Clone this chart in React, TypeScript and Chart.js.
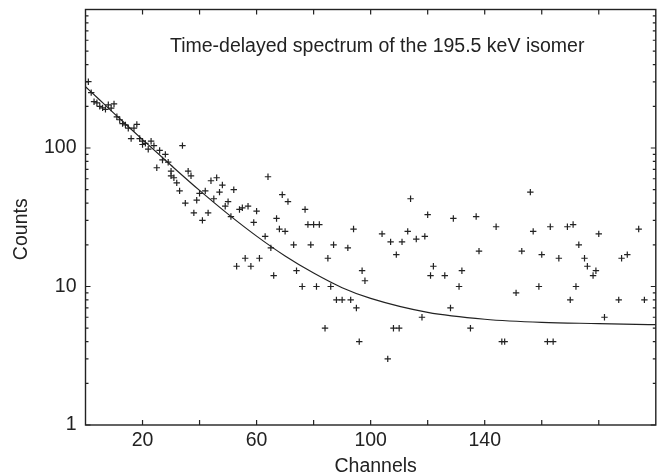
import React, { useEffect, useRef } from "react";
import { Chart, registerables } from "chart.js";

Chart.register(...registerables);

// Measured spectrum: channel number and counts per channel
const channels = [
  1, 2, 3, 4, 5, 6, 7, 8, 9, 10, 11, 12, 13, 14, 15, 16, 17, 18, 19, 20, 20, 21, 22, 23, 24,
  25, 26, 27, 28, 29, 30, 30, 31, 32, 33, 34, 35, 36, 37, 38, 39, 40, 41, 42, 43, 44, 45, 46,
  47, 48, 49, 50, 51, 52, 53, 54, 55, 56, 57, 58, 59, 60, 61, 63, 64, 65, 66, 67, 68, 69, 70,
  71, 73, 74, 76, 77, 78, 79, 80, 81, 82, 84, 85, 86, 87, 88, 90, 92, 93, 94, 95, 96, 97, 98,
  104, 106, 107, 108, 109, 110, 111, 113, 114, 116, 118, 119, 120, 121, 122, 126, 128, 129,
  131, 132, 135, 137, 138, 144, 146, 147, 151, 153, 156, 157, 159, 160, 162, 163, 164, 166,
  169, 170, 171, 172, 173, 175, 176, 178, 179, 180, 182, 187, 188, 190, 194, 196,
];
const counts = [
  301, 251, 216, 212, 200, 195, 190, 205, 194, 208, 168, 160, 150, 147, 139, 117, 139, 148,
  117, 106, 112, 108, 98, 112, 104, 72, 96, 82, 90, 79, 68, 63, 61, 56, 49, 104, 40, 68, 63,
  34, 42, 47, 30, 49, 34, 58, 43, 61, 48, 54, 38, 41, 32, 50, 14, 36, 37, 16, 38, 14, 29, 35,
  16, 23, 62, 19, 12, 31, 26, 46, 25, 41, 20, 13, 10, 36, 28, 20, 28, 10, 28, 5, 16, 10, 20,
  8, 8, 19, 8, 26, 7, 4, 13, 11, 24, 3, 21, 5, 17, 5, 21, 25, 43, 22, 6, 23, 33, 12, 14, 12,
  7, 31, 10, 13, 5, 32, 18, 27, 4, 4, 9, 18, 48, 25, 10, 17, 4, 27, 4, 16, 27, 8, 28, 10, 20,
  16, 14, 12, 13, 24, 6, 8, 16, 17, 26, 8,
];

// Fitted decay curve (exponential plus flat background)
const fitChannels = [0, 5, 10, 15, 20, 30, 40, 50, 60, 70, 80, 90, 100, 120, 140, 160, 180, 200];
const fitCounts = [277, 222, 178, 143, 115, 75, 49.4, 33.3, 23.1, 16.6, 12.5, 9.8, 8.2, 6.5, 5.8, 5.5, 5.4, 5.3];

// Axis ticks and labels
const xTickValues = [20, 40, 60, 80, 100, 120, 140, 160, 180];
const xLabelValues = [20, 60, 100, 140];
const yLabelValues = [1, 10, 100];
const yDecades = [1, 10, 100];

const plotTitle = "Time-delayed spectrum of the 195.5 keV isomer";
const xAxisTitle = "Channels";
const yAxisTitle = "Counts";

const FONT = '"Liberation Sans", Arial, Helvetica, sans-serif';
const FONT_SIZE = 19.5;
const INK = "#222";

// Draws the boxed frame with inward ticks on all four sides, plus the text
const frameAndText = {
  id: "frameAndText",
  afterDraw(chart: any) {
    const { ctx, chartArea: a, scales } = chart;
    const xs = scales.x;
    const ys = scales.y;
    ctx.save();
    ctx.strokeStyle = INK;
    ctx.lineWidth = 1.4;
    ctx.strokeRect(a.left, a.top, a.right - a.left, a.bottom - a.top);

    ctx.lineWidth = 1.2;
    ctx.beginPath();
    for (const v of xTickValues) {
      const px = xs.getPixelForValue(v);
      ctx.moveTo(px, a.bottom);
      ctx.lineTo(px, a.bottom - 5);
      ctx.moveTo(px, a.top);
      ctx.lineTo(px, a.top + 5);
    }
    for (const d of yDecades) {
      for (let m = 1; m <= 10; m++) {
        const v = d * m;
        if (m === 10 && d !== 100) continue;
        const py = ys.getPixelForValue(v);
        const len = m === 1 || m === 10 ? 5 : 3;
        ctx.moveTo(a.left, py);
        ctx.lineTo(a.left + len, py);
        ctx.moveTo(a.right, py);
        ctx.lineTo(a.right - len, py);
      }
    }
    ctx.stroke();

    ctx.fillStyle = INK;
    ctx.font = `${FONT_SIZE}px ${FONT}`;
    ctx.textAlign = "left";
    ctx.textBaseline = "middle";
    ctx.fillText(plotTitle, a.left + 84.5, a.top + 37);

    ctx.textAlign = "center";
    ctx.fillText(xAxisTitle, (a.left + a.right) / 2 + 5, a.bottom + 42);

    ctx.translate(22, (a.top + a.bottom) / 2 + 12);
    ctx.rotate(-Math.PI / 2);
    ctx.fillText(yAxisTitle, 0, 0);
    ctx.restore();
  },
};

export default function App() {
  const canvasRef = useRef<HTMLCanvasElement | null>(null);

  useEffect(() => {
    if (!canvasRef.current) return;
    const points = channels.map((c, i) => ({ x: c, y: counts[i] }));
    const fit = fitChannels.map((c, i) => ({ x: c, y: fitCounts[i] }));

    const chart = new Chart(canvasRef.current, {
      type: "scatter",
      data: {
        datasets: [
          {
            label: "data",
            data: points,
            pointStyle: "cross",
            pointRadius: 3.2,
            borderColor: INK,
            backgroundColor: INK,
            borderWidth: 1.2,
            showLine: false,
            clip: false,
          },
          {
            label: "fit",
            data: fit,
            showLine: true,
            borderColor: INK,
            borderWidth: 1.2,
            pointRadius: 0,
            cubicInterpolationMode: "monotone",
            fill: false,
          },
        ],
      },
      options: {
        responsive: false,
        animation: false,
        events: [],
        layout: { padding: { top: 9.5, right: 5, left: 0, bottom: 0 } },
        plugins: {
          legend: { display: false },
          tooltip: { enabled: false },
          title: { display: false },
        },
        scales: {
          x: {
            type: "linear",
            min: 0,
            max: 200,
            grid: { display: false, drawTicks: false },
            border: { display: false },
            ticks: {
              stepSize: 20,
              autoSkip: false,
              maxRotation: 0,
              padding: 4,
              color: INK,
              font: { family: FONT, size: FONT_SIZE },
              callback: (v: any) => (xLabelValues.includes(Number(v)) ? String(v) : ""),
            },
            afterFit: (s: any) => {
              s.height = 49;
              s.paddingLeft = 0;
              s.paddingRight = 0;
            },
          },
          y: {
            type: "logarithmic",
            min: 1,
            max: 1000,
            grid: { display: false, drawTicks: false },
            border: { display: false },
            ticks: {
              autoSkip: false,
              padding: 9,
              color: INK,
              font: { family: FONT, size: FONT_SIZE },
              callback: (v: any) => (yLabelValues.includes(Number(v)) ? String(v) : ""),
            },
            afterFit: (s: any) => {
              s.width = 85.5;
              s.paddingTop = 0;
              s.paddingBottom = 0;
            },
          },
        },
      },
      plugins: [frameAndText],
    });
    return () => chart.destroy();
  }, []);

  return (
    <div style={{ position: "fixed", left: 0, top: 0, width: 661, height: 474, background: "#fff" }}>
      <canvas ref={canvasRef} width={661} height={474} style={{ display: "block" }} />
    </div>
  );
}
